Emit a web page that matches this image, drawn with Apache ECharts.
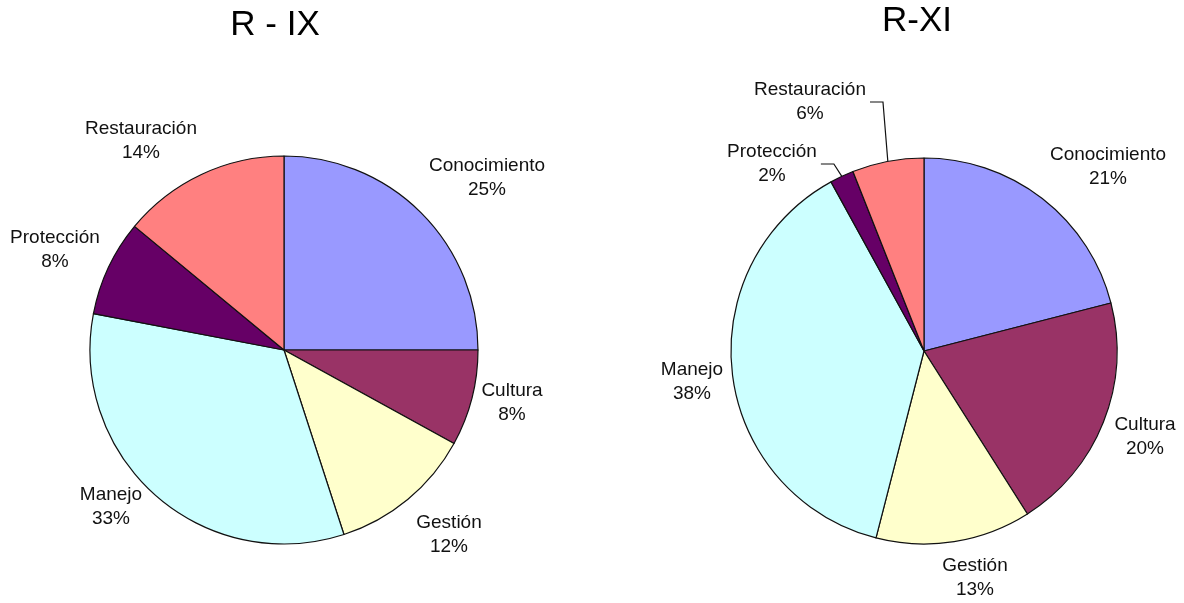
<!DOCTYPE html>
<html>
<head>
    <meta charset="utf-8">
    <title>R - IX / R-XI</title>
    <script src="https://cdn.jsdelivr.net/npm/echarts@6/dist/echarts.min.js"></script>
    <style>
        html, body { margin: 0; padding: 0; background: #fff; }
        #main { width: 1184px; height: 603px; }
    </style>
</head>
<body>
<div id="main"></div>
<script type="text/javascript">
    // categorias y valores (%) de cada region
    var categories = ['Conocimiento', 'Cultura', 'Gestión', 'Manejo', 'Protección', 'Restauración'];
    var valuesIX = [25, 8, 12, 33, 8, 14];
    var valuesXI = [21, 20, 13, 38, 2, 6];
    var colors = ['#9999FF', '#993366', '#FFFFCC', '#CCFFFF', '#660066', '#FF8080'];

    // posicion de las etiquetas (centro del texto, px)
    var labelPosIX = [[487, 178], [512, 403], [449, 535], [111, 507], [55, 250], [141, 141]];
    var labelPosXI = [[1108, 167], [1145, 437], [975, 578], [692, 382], [772, 164], [810, 102]];
    // etiquetas con linea guia en R-XI
    var withLineXI = ['Protección', 'Restauración'];

    var myChart = echarts.init(document.getElementById('main'));

    function buildData(values, withLine) {
        return categories.map(function (name, i) {
            return {
                name: name,
                value: values[i],
                itemStyle: { color: colors[i] },
                labelLine: { show: withLine.indexOf(name) >= 0 }
            };
        });
    }

    function makePie(values, center, radius, labelPos, withLine) {
        var total = values.reduce(function (a, b) { return a + b; }, 0);
        return {
            type: 'pie',
            center: center,
            radius: radius,
            startAngle: 90,
            clockwise: true,
            avoidLabelOverlap: false,
            itemStyle: { borderColor: '#111', borderWidth: 1.2 },
            label: {
                show: true,
                position: 'outside',
                color: '#111',
                fontFamily: 'Liberation Sans, Arial, sans-serif',
                fontSize: 19,
                lineHeight: 24,
                align: 'center',
                formatter: function (p) { return p.name + '\n' + p.value + '%'; }
            },
            labelLine: { show: false, lineStyle: { color: '#111', width: 1.2 } },
            labelLayout: function (params) {
                var i = params.dataIndex;
                var pos = labelPos[i];
                var res = { x: pos[0], y: pos[1], align: 'center', verticalAlign: 'middle' };
                if (withLine.indexOf(categories[i]) >= 0) {
                    // punto del borde en el angulo medio del sector
                    var before = 0;
                    for (var k = 0; k < i; k++) before += values[k];
                    var ang = (before + values[i] / 2) / total * 2 * Math.PI;
                    var ex = center[0] + radius * Math.sin(ang);
                    var ey = center[1] - radius * Math.cos(ang);
                    var sx = pos[0] + params.labelRect.width / 2 + 4;
                    res.labelLinePoints = [[sx, pos[1]], [sx + 13, pos[1]], [ex, ey]];
                }
                return res;
            },
            emphasis: { disabled: true },
            data: buildData(values, withLine)
        };
    }

    var option = {
        animation: false,
        backgroundColor: '#fff',
        title: [{
            text: 'R - IX',
            left: 270,
            top: 3,
            textAlign: 'center',
            textStyle: { fontFamily: 'Liberation Sans, Arial, sans-serif', fontSize: 35, fontWeight: 'normal', color: '#000' }
        }, {
            text: 'R-XI',
            left: 912,
            top: -1,
            textAlign: 'center',
            textStyle: { fontFamily: 'Liberation Sans, Arial, sans-serif', fontSize: 35, fontWeight: 'normal', color: '#000' }
        }],
        series: [
            makePie(valuesIX, [284, 350], 194, labelPosIX, []),
            makePie(valuesXI, [924, 351], 193, labelPosXI, withLineXI)
        ]
    };

    myChart.setOption(option);
</script>
</body>
</html>
